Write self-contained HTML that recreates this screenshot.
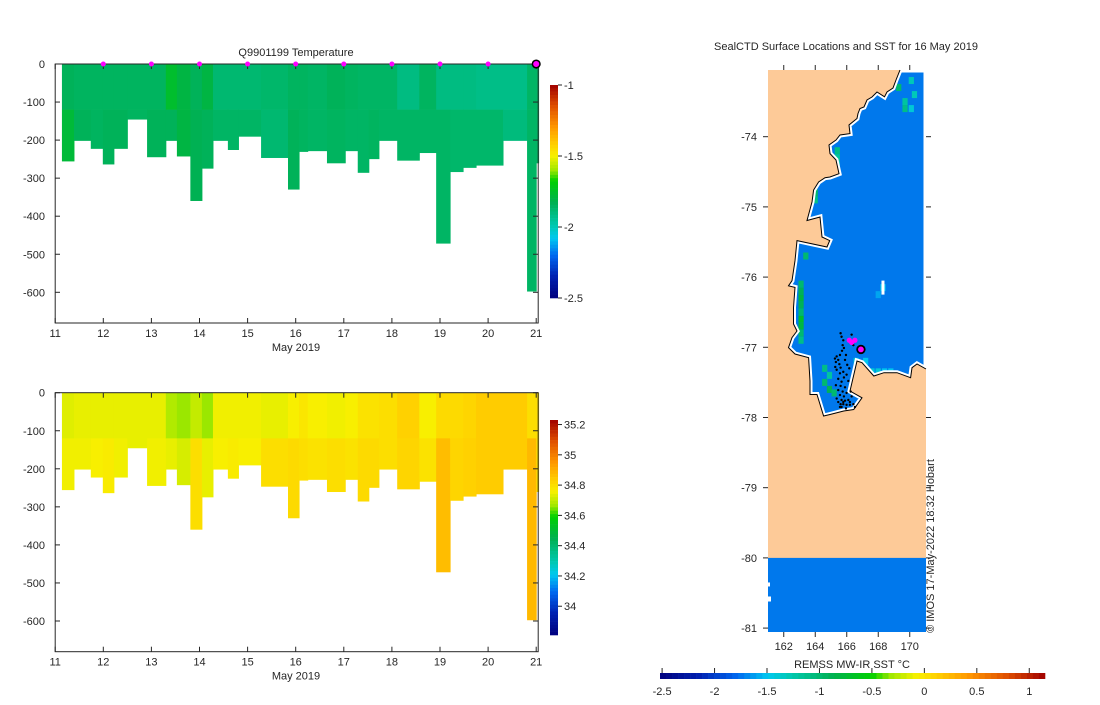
<!DOCTYPE html>
<html><head><meta charset="utf-8"><style>
body{margin:0;background:#fff;font-family:"Liberation Sans",sans-serif;}
svg text{font-family:"Liberation Sans",sans-serif;fill:#262626;font-size:11px;}
</style></head><body>
<svg id="fig" width="1100" height="700" viewBox="0 0 1100 700" xmlns="http://www.w3.org/2000/svg">
<rect width="1100" height="700" fill="#fff"/>
</svg>
<script>
// ---- profile data ----
const colStart=[11.14,11.39,11.74,11.99,12.22,12.50,12.91,13.30,13.53,13.81,14.05,14.28,14.59,14.81,15.28,15.84,16.07,16.25,16.65,17.03,17.29,17.52,17.73,18.11,18.57,18.92,19.21,19.48,19.75,20.31,20.81,21.00];
const colEnd=[11.39,11.74,11.99,12.22,12.50,12.91,13.30,13.53,13.81,14.05,14.28,14.59,14.81,15.28,15.84,16.07,16.25,16.65,17.03,17.29,17.52,17.73,18.11,18.57,18.92,19.21,19.48,19.75,20.31,20.81,21.00,21.05];
const colDepth=[256,202,223,264,223,146,245,202,243,360,275,202,226,191,247,330,231,229,261,229,286,250,202,254,234,472,284,273,267,202,598,261];
const tempTop=[-1.84,-1.85,-1.85,-1.85,-1.85,-1.85,-1.85,-1.76,-1.80,-1.84,-1.80,-1.88,-1.88,-1.88,-1.87,-1.85,-1.85,-1.86,-1.84,-1.85,-1.86,-1.86,-1.86,-1.91,-1.85,-1.91,-1.91,-1.91,-1.92,-1.92,-1.86,-1.86];
const tempBot=[-1.78,-1.84,-1.85,-1.84,-1.84,-1.85,-1.84,-1.84,-1.80,-1.83,-1.84,-1.86,-1.86,-1.86,-1.88,-1.84,-1.85,-1.86,-1.85,-1.86,-1.86,-1.85,-1.86,-1.86,-1.86,-1.86,-1.87,-1.87,-1.87,-1.90,-1.86,-1.86];
const salTop=[34.73,34.74,34.74,34.74,34.74,34.74,34.74,34.68,34.66,34.70,34.66,34.75,34.75,34.75,34.74,34.76,34.78,34.76,34.75,34.76,34.79,34.79,34.80,34.83,34.76,34.81,34.81,34.82,34.84,34.84,34.80,34.80];
const salBot=[34.75,34.75,34.76,34.77,34.75,34.74,34.75,34.74,34.72,34.80,34.74,34.76,34.77,34.76,34.80,34.81,34.80,34.79,34.80,34.79,34.81,34.81,34.80,34.82,34.79,34.87,34.82,34.83,34.84,34.84,34.88,34.81];
const markerDays=[12,13,14,15,16,17,18,19,20];
const currentDay=[21];
const xTicks=[11,12,13,14,15,16,17,18,19,20,21];
const yTicks=[0,-100,-200,-300,-400,-500,-600];
const tempTicks=[-1,-1.5,-2,-2.5];
const salTicks=[35.2,35,34.8,34.6,34.4,34.2,34];
// ---- map data ----
const trackLon=[165.61,165.67,165.78,165.74,165.82,165.70,165.57,165.36,165.25,165.46,165.31,165.53,165.27,165.61,165.36,165.78,165.57,165.99,165.82,165.46,165.67,166.10,165.31,165.61,165.89,165.46,165.74,165.99,165.57,165.82,165.36,165.67,166.10,165.46,165.78,166.20,165.57,165.95,166.42,166.31,166.25,166.03,165.89,166.10,166.31,166.42,165.95,166.16,165.67,166.52,165.78,165.99,166.20,165.89,165.61];
const trackLat=[-76.80,-76.85,-76.90,-76.97,-77.01,-77.05,-77.11,-77.13,-77.16,-77.18,-77.21,-77.24,-77.28,-77.29,-77.32,-77.35,-77.37,-77.39,-77.43,-77.45,-77.49,-77.48,-77.54,-77.55,-77.57,-77.61,-77.63,-77.65,-77.68,-77.70,-77.73,-77.75,-77.75,-77.78,-77.81,-77.82,-77.85,-77.87,-77.81,-77.70,-77.63,-77.25,-77.18,-76.90,-76.82,-76.97,-77.11,-77.30,-77.85,-77.85,-77.78,-77.82,-77.78,-77.76,-77.81];
const recentLon=[166.16,166.52,166.31];
const recentLat=[-76.90,-76.90,-76.93];
const lastLon=[166.90];
const lastLat=[-77.03];
const cellLon=[163.1,163.1,163.1,163.1,163.1,163.1,163.1,163.1,163.1,163.8,163.8,164.0,164.0,165.4,165.4,165.4,169.3,169.7,170.1,170.1,169.7,164.6,164.6,164.9,164.9,165.2,167.6,168.0,168.4,168.8,166.6,166.9,167.2,168.3,168.0,163.4,170.3];
const cellLat=[-76.1,-76.2,-76.3,-76.4,-76.5,-76.6,-76.7,-76.8,-76.9,-75.3,-75.4,-74.8,-74.9,-74.2,-74.3,-74.4,-73.3,-73.5,-73.2,-73.6,-73.6,-77.3,-77.5,-77.4,-77.6,-77.65,-77.35,-77.35,-77.35,-77.35,-77.2,-77.25,-77.2,-76.15,-76.25,-75.7,-73.4];
const cellSST=[-1.0,-0.9,-0.8,-0.9,-1.0,-0.7,-0.8,-1.0,-1.1,-1.1,-1.0,-1.0,-1.1,-1.1,-1.2,-1.3,-1.0,-1.2,-1.3,-1.4,-1.1,-1.1,-1.0,-1.2,-0.9,-1.0,-1.4,-1.4,-1.5,-1.5,-1.4,-1.5,-1.5,-1.5,-1.6,-1.0,-1.3];
const lonTicks=[162,164,166,168,170];
const latTicks=[-74,-75,-76,-77,-78,-79,-80,-81];
const sstTicks=[-2.5,-2,-1.5,-1,-0.5,0,0.5,1];

const NS='http://www.w3.org/2000/svg';
const svg=document.getElementById('fig');
function mk(tag,attrs,parent){const e=document.createElementNS(NS,tag);for(const k in attrs)e.setAttribute(k,attrs[k]);(parent||svg).appendChild(e);return e;}
function txt(s,x,y,anchor,parent,extra){const e=mk('text',Object.assign({x:x,y:y,'text-anchor':anchor||'middle'},extra||{}),parent);e.textContent=s;return e;}
const stops=[[0,[0,0,127]],[0.1,[0,32,176]],[0.2,[0,104,240]],[0.28,[0,200,240]],[0.34,[0,200,176]],[0.45,[0,176,80]],[0.55,[0,208,0]],[0.6,[160,232,0]],[0.667,[248,240,0]],[0.72,[255,208,0]],[0.8,[255,152,0]],[0.9,[224,80,0]],[1,[160,0,0]]];
function cmap(t){t=Math.max(0,Math.min(1,t));for(let i=1;i<stops.length;i++){if(t<=stops[i][0]){const a=stops[i-1],b=stops[i];const f=(t-a[0])/(b[0]-a[0]);const c=a[1].map((v,j)=>Math.round(v+(b[1][j]-v)*f));return 'rgb('+c.join(',')+')';}}return 'rgb(160,0,0)';}

function panel(name,y0,vals1,vals2,vmin,vmax,cbTop,cbBot,cticks,title){
  const g=mk('g',{},svg);
  
  
  const X=d=>55.2+(d-11)*48.1, Y=z=>y0+z*0.3805;
  for(let i=0;i<colStart.length;i++){
    const split=Math.min(120,colDepth[i]);
    const r1=mk('rect',{x:X(colStart[i]),y:Y(0),width:X(colEnd[i])-X(colStart[i])+0.5,height:Y(split)-Y(0)+0.3,fill:cmap((vals1[i]-vmin)/(vmax-vmin))},g);
    
    
    const r2=mk('rect',{x:X(colStart[i]),y:Y(split),width:X(colEnd[i])-X(colStart[i])+0.5,height:Y(colDepth[i])-Y(split),fill:cmap((vals2[i]-vmin)/(vmax-vmin))},g);
    
    
  }
  const y1=y0+259;
  mk('rect',{x:55.2,y:y0,width:483,height:259,fill:'none',stroke:'#262626','stroke-width':1},g);
  xTicks.forEach(d=>{mk('line',{x1:X(d),x2:X(d),y1:y1,y2:y1-5,stroke:'#262626'},g);mk('line',{x1:X(d),x2:X(d),y1:y0,y2:y0+5,stroke:'#262626'},g);txt(String(d),X(d),y1+14,'middle',g);});
  yTicks.forEach(v=>{const yy=Y(-v);mk('line',{x1:55.2,x2:60,y1:yy,y2:yy,stroke:'#262626'},g);mk('line',{x1:538,x2:533,y1:yy,y2:yy,stroke:'#262626'},g);txt(String(v),45,yy+4,'end',g);});
  const xl=txt('May 2019',296,y1+28,'middle',g);
  
  
  if(title){const t=txt(title,296,y0-8,'middle',g,{'font-size':'12px'});}
  const cb=mk('g',{},g);
  
  
  const n=64,h=(cbBot-cbTop)/n;
  for(let k=0;k<n;k++){mk('rect',{x:550,y:cbTop+k*h,width:8,height:h+0.3,fill:cmap(1-(k+0.5)/n)},cb);}
  cticks.forEach(v=>{const yy=cbBot-(v-vmin)/(vmax-vmin)*(cbBot-cbTop);mk('line',{x1:558,x2:562,y1:yy,y2:yy,stroke:'#262626'},cb);txt(String(v),564,yy+4,'start',cb);});
  return {g,X,Y};
}
const p1=panel('temperature-panel',64,tempTop,tempBot,-2.5,-1,85,298,tempTicks,'Q9901199  Temperature');
markerDays.forEach(d=>{const c=mk('circle',{cx:p1.X(d),cy:64,r:2.5,fill:'#ff00ff'},p1.g);});
currentDay.forEach(d=>{const c=mk('circle',{cx:p1.X(d),cy:64,r:3.8,fill:'#ff00ff',stroke:'#000','stroke-width':1.5},p1.g);});
panel('salinity-panel',392.7,salTop,salBot,33.81,35.23,420,635,salTicks,null);

// ---- map ----
const mg=mk('g',{},svg);


const LX=l=>768+(l-161)*15.75, LY=l=>70+(-73.05-l)*70.2;
mk('rect',{x:768,y:70,width:158,height:562,fill:'#fdca98'},mg);
const sh=mk('rect',{x:768,y:LY(-80),width:158,height:632-LY(-80),fill:'#0078ec'},mg);


mk('rect',{x:768,y:LY(-80.35),width:2,height:4,fill:'#fff'},mg);
mk('rect',{x:768,y:LY(-80.55),width:3,height:5,fill:'#fff'},mg);
const coast='900,70 896,80 893,88 887,92 884.5,96.8 877,92 872,97 867,100 864,107 860,108.5 858,113.5 857,118.5 849,125 850,133.6 840,135 836,140 829,145 830,153.6 836,160 839,173.7 830,177 825,177.7 818.6,182 813.6,190 812,202 807,220.5 820,217 822,237 829.7,240.6 827,247 797,240.6 795,260.7 792,280.7 788.5,285.8 795,287.4 793.5,307.5 793.5,324 797,331 792,337.6 788.5,347.6 795,354 808.6,357.7 810,381 810,394.5 817,394.5 823.6,416 830,414.5 843.7,411 853.7,409.5 862,397.8 850,391 857,361 862,362.7 873.8,376 884,372.7 897,372.7 910.6,377.7 912,367.7 917,364 926,369 926,70';
const defs=mk('defs',{},svg);
const cp=mk('clipPath',{id:'ocean'},defs);
mk('polygon',{points:coast},cp);
const oc=mk('polygon',{points:coast,fill:'#0078ec'},mg);


const cg=mk('g',{'clip-path':'url(#ocean)'},mg);
const sstMin=-2.52,sstMax=1.15;
for(let i=0;i<cellLon.length;i++){
  const r=mk('rect',{x:LX(cellLon[i])-2.6,y:LY(cellLat[i])-3.5,width:5.2,height:7,fill:cmap((cellSST[i]-sstMin)/(sstMax-sstMin))},cg);
  
  
}
mk('rect',{x:LX(168.3)-1.5,y:LY(-76.05),width:3,height:14,fill:'#fff'},cg);
mk('polygon',{points:coast,fill:'none',stroke:'#fff','stroke-width':5},cg);
const cl=mk('polyline',{points:coast.split(' ').slice(0,-1).join(' '),fill:'none',stroke:'#000','stroke-width':1},mg);


for(let i=0;i<trackLon.length;i++){
  const c=mk('circle',{cx:LX(trackLon[i]),cy:LY(trackLat[i]),r:1.2,fill:'#000'},mg);
  
  
}
for(let i=0;i<recentLon.length;i++){
  const c=mk('circle',{cx:LX(recentLon[i]),cy:LY(recentLat[i]),r:2.6,fill:'#ff00ff'},mg);
  
  
}
for(let i=0;i<lastLon.length;i++){
  const c=mk('circle',{cx:LX(lastLon[i]),cy:LY(lastLat[i]),r:3.8,fill:'#ff00ff',stroke:'#000','stroke-width':1.8},mg);
  
  
}
lonTicks.forEach(l=>{mk('line',{x1:LX(l),x2:LX(l),y1:65,y2:70,stroke:'#262626'},mg);mk('line',{x1:LX(l),x2:LX(l),y1:632,y2:637,stroke:'#262626'},mg);txt(String(l),LX(l),650,'middle',mg);});
latTicks.forEach(l=>{mk('line',{x1:763,x2:768,y1:LY(l),y2:LY(l),stroke:'#262626'},mg);mk('line',{x1:926,x2:931,y1:LY(l),y2:LY(l),stroke:'#262626'},mg);txt(String(l),757,LY(l)+4,'end',mg);});
const mt=txt('SealCTD Surface Locations and SST for 16 May 2019',846,50,'middle',mg);


const cr=txt('© IMOS 17-May-2022 18:32 Hobart',0,0,'middle',mg,{transform:'translate(934,546) rotate(-90)','font-size':'9px'});


const sg=mk('g',{},svg);


const SX=v=>660+(v-sstMin)/(sstMax-sstMin)*385;
for(let k=0;k<64;k++){mk('rect',{x:660+k*385/64,y:673,width:385/64+0.3,height:6,fill:cmap((k+0.5)/64)},sg);}
sstTicks.forEach(v=>{mk('line',{x1:SX(v),x2:SX(v),y1:668,y2:673,stroke:'#262626'},sg);txt(String(v),SX(v),695,'middle',sg);});
const st=txt('REMSS MW-IR SST °C',852,668,'middle',sg);


</script>
</body></html>
